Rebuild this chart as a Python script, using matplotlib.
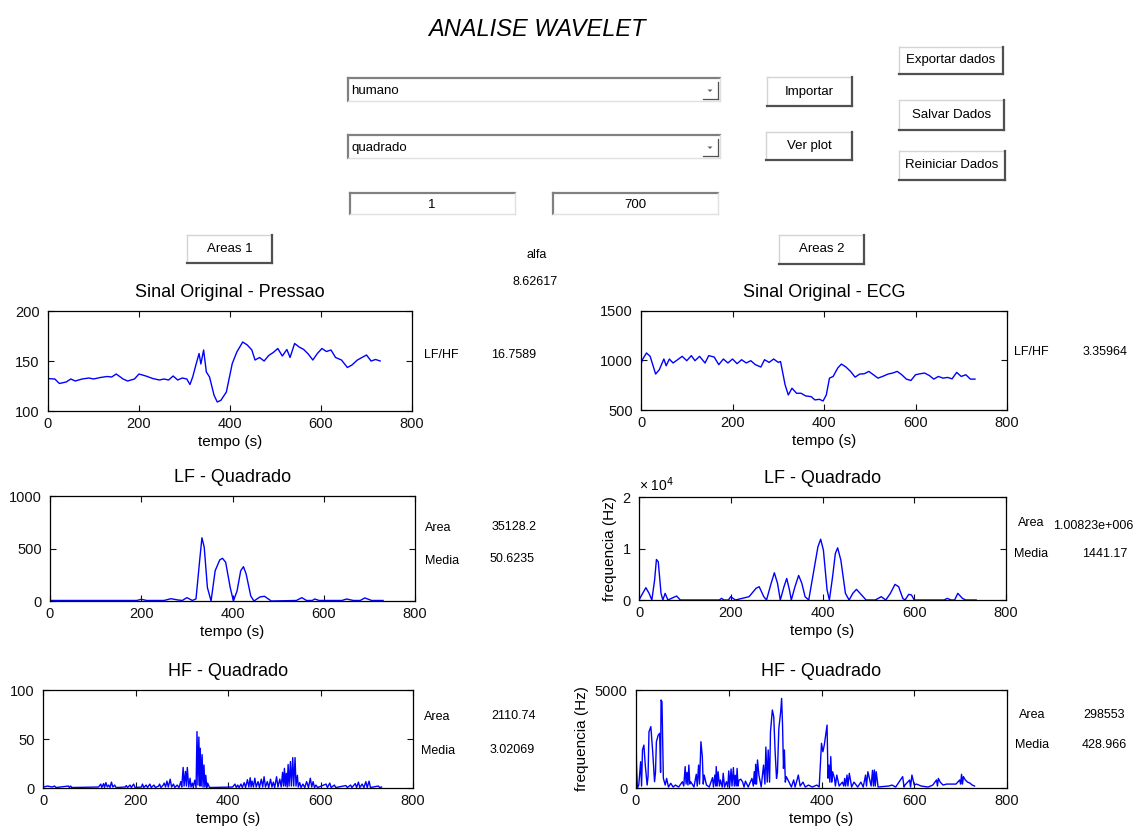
import matplotlib
matplotlib.use('Agg')
import matplotlib.pyplot as plt
from matplotlib.patches import Rectangle, Polygon
from matplotlib.lines import Line2D

W, H = 1139, 830
plt.rcParams['font.family'] = ['Liberation Sans', 'DejaVu Sans']

# ---- data ----
t_pressao = [0, 15, 25, 40, 50, 60, 75, 90, 100, 115,
             130, 140, 150, 165, 175, 190, 200, 215, 230, 245,
             255, 265, 275, 285, 295, 305, 312, 318, 325, 332,
             336, 342, 348, 355, 365, 372, 380, 392, 405, 415,
             428, 438, 448, 455, 465, 475, 485, 495, 505, 515,
             525, 532, 542, 552, 562, 572, 582, 592, 602, 612,
             622, 632, 645, 658, 668, 680, 690, 700, 710, 720, 730]
pressao = [132.4, 132, 127.5, 129, 132, 130, 132, 133, 132, 133.5,
           134.5, 134, 137, 132, 130, 132, 137, 135, 132.5, 131,
           132, 131, 135, 131, 133, 132, 126.5, 134, 146, 157.5,
           147, 161, 139, 134, 115.7, 109, 110.7, 119, 147.5, 159,
           169, 166, 161, 151, 153.5, 150, 155.5, 158.5, 162.5, 155,
           161.5, 153.5, 167.5, 164, 161.5, 157, 151, 157.5, 162.5, 159.5,
           161, 153.5, 151, 143.5, 146, 151, 153.5, 156, 150, 151.5, 150]

t_ecg = [0, 3, 12, 20, 32, 40, 50, 55, 62, 70,
         80, 90, 100, 110, 118, 128, 140, 148, 160, 170,
         180, 190, 200, 210, 220, 230, 240, 250, 262, 270,
         280, 290, 300, 305, 315, 322, 330, 340, 350, 360,
         372, 380, 390, 398, 405, 412, 420, 430, 438, 448,
         458, 468, 478, 488, 498, 508, 518, 528, 540, 550,
         560, 570, 580, 590, 600, 610, 620, 630, 640, 650,
         660, 670, 680, 690, 700, 710, 720, 730]
ecg = [958, 1008, 1076, 1042, 863, 907, 1015, 947, 1015, 975,
       1008, 1042, 998, 1049, 998, 1042, 975, 1049, 1035, 958,
       1015, 975, 1015, 968, 1008, 975, 998, 958, 934, 1008,
       981, 1015, 981, 990, 754, 652, 720, 669, 669, 642,
       635, 602, 608, 591, 652, 822, 839, 924, 964, 934,
       890, 832, 863, 866, 890, 856, 822, 839, 863, 873,
       890, 856, 812, 798, 856, 866, 873, 849, 812, 839,
       822, 829, 815, 880, 839, 856, 812, 812]

t_lf_p = [0, 190, 200, 212, 250, 265, 280, 290, 300, 312,
          320, 328, 333, 338, 345, 353, 362, 372, 378, 385,
          395, 402, 410, 418, 424, 430, 440, 447, 460, 470,
          485, 540, 552, 562, 575, 580, 590, 640, 650, 665,
          680, 690, 705, 730]
lf_p = [5, 5, 16, 5, 5, 22, 10, 5, 32, 5,
        20, 385, 602, 513, 128, 0, 288, 391, 407, 369,
        128, 0, 96, 288, 327, 256, 48, 0, 38, 45,
        0, 5, 32, 5, 5, 19, 5, 5, 19, 5,
        5, 29, 5, 5]

t_lf_e = [0, 8, 15, 22, 28, 34, 38, 42, 48, 52,
          57, 63, 82, 90, 175, 180, 185, 195, 200, 210,
          240, 255, 262, 272, 278, 288, 295, 302, 308, 316,
          322, 328, 332, 340, 348, 355, 362, 370, 380, 390,
          396, 402, 410, 415, 422, 428, 433, 440, 450, 458,
          466, 474, 482, 495, 515, 528, 538, 548, 558, 566,
          575, 580, 588, 594, 600, 665, 672, 680, 688, 695,
          705, 712, 735]
lf_e = [0, 1290, 2390, 1290, 0, 3870, 7870, 7420, 1290, 0,
        1290, 0, 770, 0, 0, 320, 0, 0, 645, 0,
        645, 2260, 2580, 645, 0, 3225, 5290, 3225, 0, 2580,
        4190, 1935, 0, 2580, 4770, 3225, 645, 0, 5160, 10320,
        11800, 9675, 1935, 0, 4515, 9030, 10130, 7740, 1290, 0,
        1290, 2065, 1290, 0, 0, 645, 0, 1290, 3030, 2580,
        320, 0, 1100, 970, 0, 0, 320, 0, 0, 1290,
        320, 0, 0]

t_hf_p = [0, 10, 20, 25, 28, 55, 57, 60, 62, 120,
          125, 127, 131, 133, 136, 139, 142, 145, 148, 151,
          155, 158, 178, 180, 183, 188, 191, 196, 199, 213,
          215, 218, 223, 226, 231, 234, 240, 243, 250, 252,
          255, 260, 262, 265, 268, 271, 275, 278, 282, 285,
          290, 294, 298, 300, 303, 305, 308, 310, 312, 315,
          318, 320, 323, 325, 328, 331, 333, 335, 337, 339,
          340, 342, 344, 346, 348, 350, 352, 354, 356, 360,
          410, 415, 418, 421, 424, 428, 431, 435, 438, 442,
          445, 448, 450, 452, 455, 458, 461, 465, 468, 472,
          475, 478, 481, 485, 488, 492, 495, 498, 501, 505,
          508, 512, 515, 518, 520, 522, 524, 526, 528, 530,
          532, 535, 537, 540, 542, 545, 547, 550, 552, 555,
          558, 562, 566, 570, 574, 578, 581, 584, 587, 590,
          594, 612, 615, 620, 623, 630, 633, 655, 658, 665,
          668, 675, 678, 682, 685, 690, 694, 698, 701, 705,
          708, 725, 728, 732]
hf_p = [1, 2, 1, 2, 0.5, 2, 0.5, 2, 0.5, 1,
        4, 0.5, 4.5, 0.5, 5.5, 1, 3, 0.5, 6, 1,
        3, 0.5, 1, 2.5, 0.5, 3, 0.5, 4, 0.5, 1,
        4, 0.5, 3, 0.5, 4, 0.5, 3, 0.5, 2, 4,
        0.5, 3, 5, 1, 7, 1, 9, 1, 4, 0.5,
        3, 0.5, 6.5, 1, 21, 2, 17, 2, 21, 1,
        10, 1, 5, 0.5, 8, 0.5, 57.5, 3, 52, 2,
        40.5, 2, 34, 1, 23.5, 1, 13, 0.5, 5, 0.5,
        1, 4, 0.5, 3, 0.5, 4, 0.5, 5.5, 0.5, 8.5,
        1, 10.5, 1, 7, 1, 10, 1, 6.5, 0.5, 9,
        1, 11.5, 1, 6.5, 0.5, 9, 1, 6, 0.5, 11.5,
        1, 9, 1, 16, 2, 20, 2, 15, 1, 24,
        2, 27, 2, 31, 2, 31, 2, 13, 1, 5.5,
        0.5, 4, 0.5, 6.5, 0.5, 10, 1, 6.5, 0.5, 3,
        0.5, 4, 0.5, 5, 0.5, 3, 0.5, 2.5, 0.5, 3,
        0.5, 4.5, 0.5, 6, 0.5, 4, 0.5, 6.5, 0.5, 7,
        0.5, 2, 0.5, 1]

t_hf_e = [0, 1, 3, 6, 10, 12, 14, 17, 20, 24,
          26, 28, 32, 36, 40, 42, 44, 48, 51, 53,
          54, 56, 59, 63, 66, 70, 75, 80, 85, 92,
          100, 103, 106, 108, 110, 112, 114, 116, 118, 125,
          130, 132, 135, 137, 140, 143, 145, 147, 152, 158,
          165, 167, 170, 172, 173, 175, 177, 180, 182, 186,
          188, 191, 195, 198, 200, 202, 205, 207, 210, 212,
          214, 216, 218, 220, 222, 226, 230, 233, 236, 242,
          250, 253, 255, 257, 258, 260, 262, 265, 270, 275,
          278, 280, 283, 285, 288, 290, 294, 297, 300, 303,
          305, 308, 312, 314, 316, 318, 320, 322, 324, 330,
          335, 340, 343, 346, 350, 354, 360, 365, 372, 380,
          390, 395, 400, 403, 406, 410, 412, 414, 416, 418,
          420, 422, 424, 428, 430, 433, 438, 445, 448, 450,
          452, 455, 457, 460, 465, 470, 478, 485, 490, 495,
          497, 500, 505, 507, 510, 512, 514, 516, 518, 522,
          530, 545, 552, 560, 575, 578, 580, 590, 592, 595,
          600, 605, 615, 630, 640, 648, 650, 652, 656, 662,
          670, 680, 690, 698, 700, 702, 704, 706, 710, 715,
          720, 725, 730]
hf_e = [3470, 1225, 0, 150, 1340, 100, 1940, 2190, 1170, 150,
        600, 2870, 3130, 1850, 320, 800, 2360, 2700, 2790, 800,
        4490, 4400, 490, 150, 490, 50, 240, 50, 150, 50,
        320, 100, 1090, 200, 800, 150, 1170, 200, 320, 50,
        700, 100, 1170, 200, 2360, 1600, 200, 660, 150, 50,
        530, 50, 660, 100, 1090, 100, 830, 100, 410, 50,
        750, 50, 320, 50, 870, 100, 970, 100, 1040, 100,
        650, 100, 1000, 100, 400, 450, 300, 50, 350, 50,
        490, 100, 830, 200, 1210, 200, 1430, 660, 50, 1170,
        200, 2090, 300, 1940, 300, 2870, 3980, 3640, 1850, 490,
        800, 3040, 3890, 4570, 3210, 1000, 1940, 300, 580, 300,
        50, 410, 50, 300, 660, 100, 300, 50, 150, 50,
        150, 50, 2280, 1850, 2190, 2870, 3210, 500, 1170, 300,
        1600, 300, 830, 490, 100, 660, 100, 300, 100, 490,
        100, 660, 100, 750, 50, 300, 50, 300, 50, 660,
        100, 830, 300, 100, 900, 100, 920, 100, 830, 50,
        70, 100, 150, 50, 580, 50, 150, 410, 50, 660,
        150, 200, 100, 50, 150, 410, 100, 490, 300, 150,
        200, 200, 200, 410, 200, 700, 200, 580, 410, 300,
        250, 150, 100]

x_ticks = [0, 200, 400, 600, 800]

fig = plt.figure(figsize=(W / 100, H / 100), dpi=100)
fig.patch.set_facecolor('white')


def fx(x):
    return x / W


def fy(y):
    return 1 - y / H


def hline(x0, x1, y, c, lw):
    fig.add_artist(Line2D([fx(x0), fx(x1)], [fy(y), fy(y)], color=c, lw=lw,
                          transform=fig.transFigure))


def vline(x, y0, y1, c, lw):
    fig.add_artist(Line2D([fx(x), fx(x)], [fy(y0), fy(y1)], color=c, lw=lw,
                          transform=fig.transFigure))


def box(x0, y0, x1, y1):
    fig.add_artist(Rectangle((fx(x0), fy(y1)), (x1 - x0) / W, (y1 - y0) / H,
                             transform=fig.transFigure, facecolor='white',
                             edgecolor='none'))


def button(x0, y0, x1, y1, label):
    box(x0, y0, x1, y1)
    hline(x0, x1, y0, '#d4d4d4', 1)
    vline(x0, y0, y1, '#d4d4d4', 1)
    hline(x0, x1, y1, '#505050', 1.6)
    vline(x1, y0, y1, '#505050', 1.6)
    fig.text(fx((x0 + x1) / 2), fy((y0 + y1) / 2), label,
             ha='center', va='center', fontsize=9.5)


def sunken(x0, y0, x1, y1):
    box(x0, y0, x1, y1)
    hline(x0, x1, y0, '#808080', 1.6)
    vline(x0, y0, y1, '#808080', 1.6)
    hline(x0, x1, y1, '#e0e0e0', 1)
    vline(x1, y0, y1, '#e0e0e0', 1)


def popup(x0, y0, x1, y1, label):
    sunken(x0, y0, x1, y1)
    vline(x1 - 2.5, y0 + 4, y1 - 2, '#505050', 0.9)
    hline(x1 - 17, x1 - 2.5, y1 - 2, '#505050', 0.9)
    cx, cy = x1 - 10, (y0 + y1) / 2 + 1
    fig.add_artist(Polygon([(fx(cx - 2.5), fy(cy - 1)), (fx(cx + 2.5), fy(cy - 1)),
                            (fx(cx), fy(cy + 1.5))], closed=True,
                           transform=fig.transFigure, color='#606060', lw=0))
    fig.text(fx(x0 + 3), fy((y0 + y1) / 2 + 1), label, ha='left', va='center',
             fontsize=9.5)


def label(x, y, s, ha='center'):
    fig.text(fx(x), fy(y), s, ha=ha, va='center', fontsize=9)


# ---- GUI controls ----
fig.text(fx(537), fy(30), 'ANALISE WAVELET', ha='center', va='center',
         fontsize=17, style='italic')
popup(348, 78, 720, 101, 'humano')
popup(348, 135, 720, 158, 'quadrado')
sunken(350, 193, 515, 214)
fig.text(fx(432), fy(205), '1', ha='center', va='center', fontsize=9.5)
sunken(553, 193, 718, 214)
fig.text(fx(635), fy(205), '700', ha='center', va='center', fontsize=9.5)
button(767, 77, 852, 106, 'Importar')
button(766, 132, 852, 160, 'Ver plot')
button(899, 47, 1003, 74, 'Exportar dados')
button(899, 100, 1004, 130, 'Salvar Dados')
button(899, 151, 1005, 180, 'Reiniciar Dados')
button(187, 235, 272, 263, 'Areas 1')
button(779, 235, 864, 264, 'Areas 2')
label(537, 255, 'alfa')
label(535, 282, '8.62617')

label(424, 355, 'LF/HF', ha='left')
label(514, 355, '16.7589')
label(438, 528, 'Area')
label(514, 527, '35128.2')
label(442, 561, 'Media')
label(512, 559, '50.6235')
label(437, 717, 'Area')
label(514, 716, '2110.74')
label(438, 751, 'Media')
label(512, 750, '3.02069')

label(1014, 352, 'LF/HF', ha='left')
label(1105, 352, '3.35964')
label(1031, 523, 'Area')
label(1053, 526, '1.00823e+006', ha='left')
label(1031, 554, 'Media')
label(1105, 554, '1441.17')
label(1032, 715, 'Area')
label(1104, 715, '298553')
label(1032, 745, 'Media')
label(1104, 745, '428.966')


# ---- plots ----
def add_ax(x0, y0, x1, y1):
    return fig.add_axes([fx(x0), fy(y1), (x1 - x0) / W, (y1 - y0) / H])


def style(ax, title, ylim, yticks, xlabel=True):
    ax.set_xlim(0, 800)
    ax.set_xticks(x_ticks)
    ax.set_ylim(ylim)
    ax.set_yticks(yticks)
    ax.tick_params(direction='in', top=True, right=True, length=4,
                   width=0.8, labelsize=10.5, colors='#111111')
    ax.tick_params(axis='x', pad=4)
    ax.tick_params(axis='y', pad=6)
    for s in ax.spines.values():
        s.set_linewidth(0.9)
    ax.set_title(title, fontsize=13, pad=10)
    if xlabel:
        ax.set_xlabel('tempo (s)', fontsize=11, labelpad=3)


blue = '#0000ff'

ax1 = add_ax(48, 311, 412, 411)
ax1.plot(t_pressao, pressao, color=blue, lw=1)
style(ax1, 'Sinal Original - Pressao', (100, 200), [100, 150, 200])

ax2 = add_ax(641, 311, 1007, 410)
ax2.plot(t_ecg, ecg, color=blue, lw=1)
style(ax2, 'Sinal Original - ECG', (500, 1500), [500, 1000, 1500])

ax3 = add_ax(50, 496, 415, 601)
ax3.plot(t_lf_p, lf_p, color=blue, lw=1)
style(ax3, 'LF - Quadrado', (0, 1000), [0, 500, 1000])

ax4 = add_ax(639, 497, 1006, 600)
ax4.plot(t_lf_e, lf_e, color=blue, lw=1)
style(ax4, 'LF - Quadrado', (0, 20000), [0, 10000, 20000])
ax4.set_yticklabels(['0', '1', '2'])
ax4.text(0.0, 1.03, '× 10$^4$', transform=ax4.transAxes, fontsize=10,
         ha='left', va='bottom')
ax4.set_ylabel('frequencia (Hz)', fontsize=11, labelpad=4)

ax5 = add_ax(43, 690, 413, 788)
ax5.plot(t_hf_p, hf_p, color=blue, lw=1)
style(ax5, 'HF - Quadrado', (0, 100), [0, 50, 100])

ax6 = add_ax(636, 690, 1007, 788)
ax6.plot(t_hf_e, hf_e, color=blue, lw=1)
style(ax6, 'HF - Quadrado', (0, 5000), [0, 5000])
ax6.set_ylabel('frequencia (Hz)', fontsize=11, labelpad=4)

fig.savefig('out.png', dpi=100, facecolor='white')
